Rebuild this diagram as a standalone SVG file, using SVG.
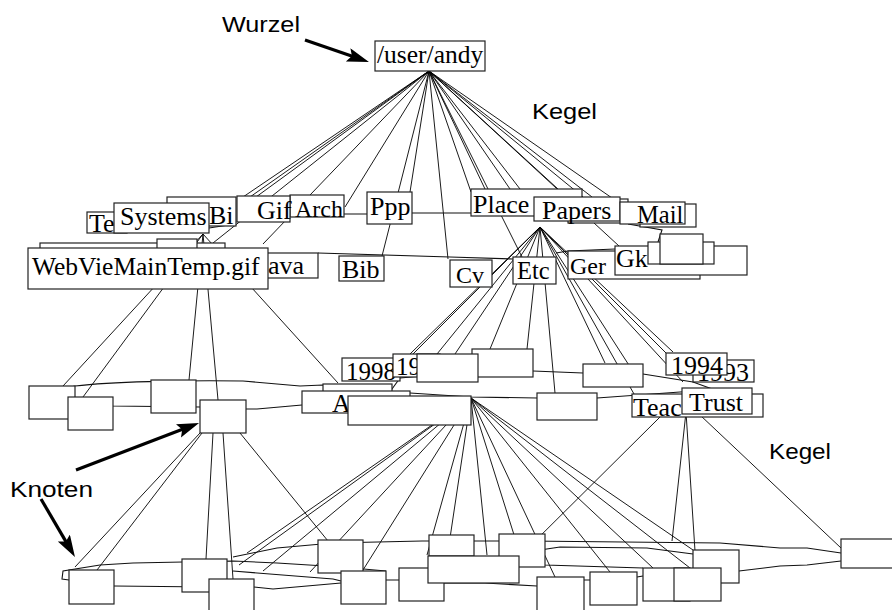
<svg xmlns="http://www.w3.org/2000/svg" width="892" height="610" viewBox="0 0 892 610">
<defs>
<style>
.n{fill:#fff;stroke:#222;stroke-width:1.2}
.t{font-family:"Liberation Serif","Times New Roman",serif;font-size:26px;fill:#000}
.s{font-family:"Liberation Sans",Arial,sans-serif;font-size:22px;fill:#000}
.c{fill:none;stroke:#000;stroke-width:0.9}
.r{fill:none;stroke:#111;stroke-width:1.1}
.a{fill:none;stroke:#000;stroke-width:3.2}
</style>
<marker id="ah" markerUnits="userSpaceOnUse" markerWidth="26" markerHeight="16" refX="12" refY="7" orient="auto" viewBox="0 0 26 16">
<path d="M0,0 L22,7 L0,14 L4,7 Z" fill="#000"/>
</marker>
</defs>
<rect width="892" height="610" fill="#fff"/>

<g id="connectors">
<path class="c" d="M429,71 L243,197 M429,71 L250,197 M429,71 L256,197 M429,71 L213,243 M429,71 L263,244 M429,71 L345,207 M429,71 L382,256 M429,71 L410,192 M429,71 L448,259 M429,71 L471,192 M429,71 L485,189 M429,71 L510,189 M429,71 L520,189 M429,71 L522,257 M429,71 L558,189 M429,71 L583,197 M429,71 L592,197 M429,71 L612,198 M429,71 L619,246"/>
<path class="c" d="M203,234 L63,386 M203,234 L83,397 M203,234 L189,380 M203,234 L218,400 M203,234 L338,383"/>
<path class="c" d="M540,227 L410,354 M540,227 L413,354 M540,227 L437,354 M540,227 L455,354 M540,227 L490,349 M540,227 L527,349 M540,227 L555,393 M540,227 L605,363 M540,227 L643,387 M540,227 L634,394 M540,227 L666,353 M540,227 L673,352 M540,227 L683,382"/>
<path class="c" d="M200,433 L75,567 M202,433 L97,570 M213,433 L206,559 M223,433 L233,579 M240,433 L350,568"/>
<path class="c" d="M471,398 L247,553 M471,398 L239,565 M471,398 L263,571 M471,398 L310,572 M471,398 L363,570 M471,398 L427,555 M471,398 L450,538 M471,398 L487,555 M471,398 L515,538 M471,398 L555,577 M471,398 L610,572 M471,398 L653,568 M471,398 L690,568 M471,398 L693,550"/>
<path class="c" d="M686,412 L672,541 M686,412 L695,551 M700,415 L841,548 M660,417 L519,557"/>
<path class="r" d="M209,228 L235,224 M344,214 L367,214 M412,213 L471,213 M318,253 L450,257 L513,259 M556,253 L568,251 L615,249 M628,224 L662,230 L658,242"/>
<path class="r" d="M47,392 L75,386 C110,382 180,380 243,381 L300,386 L323,385 L392,389 L400,378 L478,371 L533,371 L583,373 L643,374 L693,382 L715,390 L680,392 L597,398 L537,398 L471,397 L410,393 L363,392 L353,400 L302,405 L257,409 L246,409 L200,407 L113,406 L68,402 L47,400 Z"/>
<path class="r" d="M69,580 L62,579 L63,571 L100,565 L133,563 L233,561 L277,563 L341,567 L386,571 M233,557 L277,548 L333,543 L422,541 L527,541 L720,543 L780,548 L807,548 L841,553 M233,571 L333,579 L341,581 M114,586 L209,587 M254,587 L273,589 L341,583 M386,580 L399,580 M444,583 L485,583 L537,586 M584,580 L590,580 M637,577 L643,576 M739,571 L780,566 L807,565 L841,561 M693,554 L647,548 L560,547 L527,552 L526,561 L545,565 L643,568"/>
</g>

<g id="root"><rect class="n" x="375" y="41" width="110" height="30"/><text class="t" x="377" y="63" style="font-size:25.5px">/user/andy</text></g>

<g id="n_te"><rect class="n" x="87" y="212" width="40" height="21"/><text class="t" x="89" y="232">Te</text></g>
<g id="n_bi"><rect class="n" x="167" y="197" width="69" height="29"/><text class="t" x="209" y="224">Bi</text></g>
<g id="n_arch"><rect class="n" x="290" y="195" width="54" height="22"/><text class="t" x="295" y="217" style="font-size:24px">Arch</text></g>
<g id="n_gif"><rect class="n" x="237" y="196" width="53" height="26"/><text class="t" x="257" y="219">Gif</text></g>
<g id="n_systems"><rect class="n" x="114" y="203" width="95" height="30"/><text class="t" x="120" y="225">Systems</text></g>
<g id="n_hid1"><rect class="n" x="40" y="243" width="185" height="10"/></g>
<g id="n_hid2"><rect class="n" x="157" y="239" width="40" height="10"/></g>
<g id="n_ava"><rect class="n" x="255" y="253" width="63" height="25"/><text class="t" x="268" y="274">ava</text></g>
<g id="n_webvie"><rect class="n" x="28" y="248" width="240" height="41"/><text class="t" x="32" y="275" style="font-size:25.5px">WebVieMainTemp.gif</text></g>
<g id="n_ppp"><rect class="n" x="367" y="192" width="45" height="32"/><text class="t" x="370" y="215">Ppp</text></g>
<g id="n_bib"><rect class="n" x="339" y="256" width="45" height="25"/><text class="t" x="342" y="278">Bib</text></g>
<g id="n_place"><rect class="n" x="471" y="189" width="111" height="27"/><text class="t" x="473" y="213">Place</text></g>
<g id="n_hid3"><rect class="n" x="568" y="199" width="60" height="24"/></g>
<g id="n_papers"><rect class="n" x="534" y="197" width="86" height="24"/><text class="t" x="542" y="219">Papers</text></g>
<g id="n_hid4"><rect class="n" x="640" y="204" width="56" height="23"/></g>
<g id="n_mail"><rect class="n" x="620" y="202" width="65" height="22"/><text class="t" x="637" y="223" style="font-size:24.5px">Mail</text></g>
<g id="n_ger"><rect class="n" x="568" y="251" width="132" height="28"/><text class="t" x="570" y="274" style="font-size:24px">Ger</text></g>
<g id="n_gk"><rect class="n" x="615" y="246" width="132" height="29"/><text class="t" x="616" y="267">Gk</text></g>
<g id="n_hid5"><rect class="n" x="648" y="242" width="66" height="22"/></g>
<g id="n_hid6"><rect class="n" x="660" y="234" width="43" height="30"/></g>
<g id="n_cv"><rect class="n" x="450" y="260" width="42" height="27"/><text class="t" x="456" y="283" style="font-size:24px">Cv</text></g>
<g id="n_etc"><rect class="n" x="513" y="257" width="43" height="27"/><text class="t" x="517" y="279" style="font-size:24.5px">Etc</text></g>

<g id="m_a"><rect class="n" x="29" y="386" width="46" height="33"/></g>
<g id="m_b"><rect class="n" x="68" y="397" width="45" height="33"/></g>
<g id="m_c"><rect class="n" x="151" y="380" width="45" height="33"/></g>
<g id="m_d"><rect class="n" x="200" y="400" width="46" height="33"/></g>
<g id="m_e"><rect class="n" x="323" y="384" width="69" height="14"/></g>
<g id="m_A"><rect class="n" x="302" y="391" width="108" height="22"/><text class="t" x="332" y="412">A</text></g>
<g id="m_1998"><rect class="n" x="342" y="358" width="58" height="23"/><text class="t" x="346" y="380" style="font-size:25px">1998</text></g>
<g id="m_19"><rect class="n" x="393" y="354" width="47" height="23"/><text class="t" x="396" y="375" style="font-size:25px">19</text></g>
<g id="m_f"><rect class="n" x="472" y="349" width="61" height="28"/></g>
<g id="m_g"><rect class="n" x="417" y="354" width="61" height="28"/></g>
<g id="m_h"><rect class="n" x="583" y="364" width="60" height="23"/></g>
<g id="m_i"><rect class="n" x="537" y="393" width="60" height="27"/></g>
<g id="m_big"><rect class="n" x="348" y="396" width="123" height="29"/></g>
<g id="m_1993"><rect class="n" x="693" y="360" width="61" height="22"/><text class="t" x="697" y="381">1993</text></g>
<g id="m_1994"><rect class="n" x="666" y="353" width="61" height="22"/><text class="t" x="671" y="374">1994</text></g>
<g id="m_teac"><rect class="n" x="632" y="394" width="131" height="23"/><text class="t" x="633" y="416">Teac</text></g>
<g id="m_trust"><rect class="n" x="682" y="388" width="70" height="26"/><text class="t" x="689" y="411">Trust</text></g>

<g id="b_1"><rect class="n" x="69" y="570" width="45" height="34"/></g>
<g id="b_2"><rect class="n" x="182" y="559" width="45" height="33"/></g>
<g id="b_3"><rect class="n" x="209" y="579" width="45" height="34"/></g>
<g id="b_4"><rect class="n" x="318" y="540" width="45" height="33"/></g>
<g id="b_5"><rect class="n" x="341" y="571" width="45" height="33"/></g>
<g id="b_6"><rect class="n" x="399" y="568" width="45" height="33"/></g>
<g id="b_7"><rect class="n" x="429" y="535" width="45" height="21"/></g>
<g id="b_8"><rect class="n" x="499" y="534" width="46" height="33"/></g>
<g id="b_9"><rect class="n" x="428" y="556" width="91" height="27"/></g>
<g id="b_10"><rect class="n" x="537" y="577" width="47" height="36"/></g>
<g id="b_11"><rect class="n" x="590" y="572" width="47" height="33"/></g>
<g id="b_12"><rect class="n" x="643" y="568" width="47" height="33"/></g>
<g id="b_13"><rect class="n" x="693" y="550" width="46" height="33"/></g>
<g id="b_14"><rect class="n" x="674" y="568" width="47" height="33"/></g>
<g id="b_15"><rect class="n" x="841" y="539" width="55" height="29"/></g>

<g id="labels">
<text class="s" x="222" y="32" textLength="78" lengthAdjust="spacingAndGlyphs">Wurzel</text>
<text class="s" x="532" y="119" textLength="65" lengthAdjust="spacingAndGlyphs">Kegel</text>
<text class="s" x="769" y="459" textLength="62" lengthAdjust="spacingAndGlyphs">Kegel</text>
<text class="s" x="10" y="497" textLength="83" lengthAdjust="spacingAndGlyphs">Knoten</text>
</g>
<g id="arrows">
<line class="a" x1="305" y1="40" x2="359.5" y2="58.7" marker-end="url(#ah)"/>
<line class="a" x1="76" y1="470" x2="189.7" y2="426.6" marker-end="url(#ah)"/>
<line class="a" x1="41" y1="499" x2="69.9" y2="548.4" marker-end="url(#ah)"/>
</g>
</svg>
